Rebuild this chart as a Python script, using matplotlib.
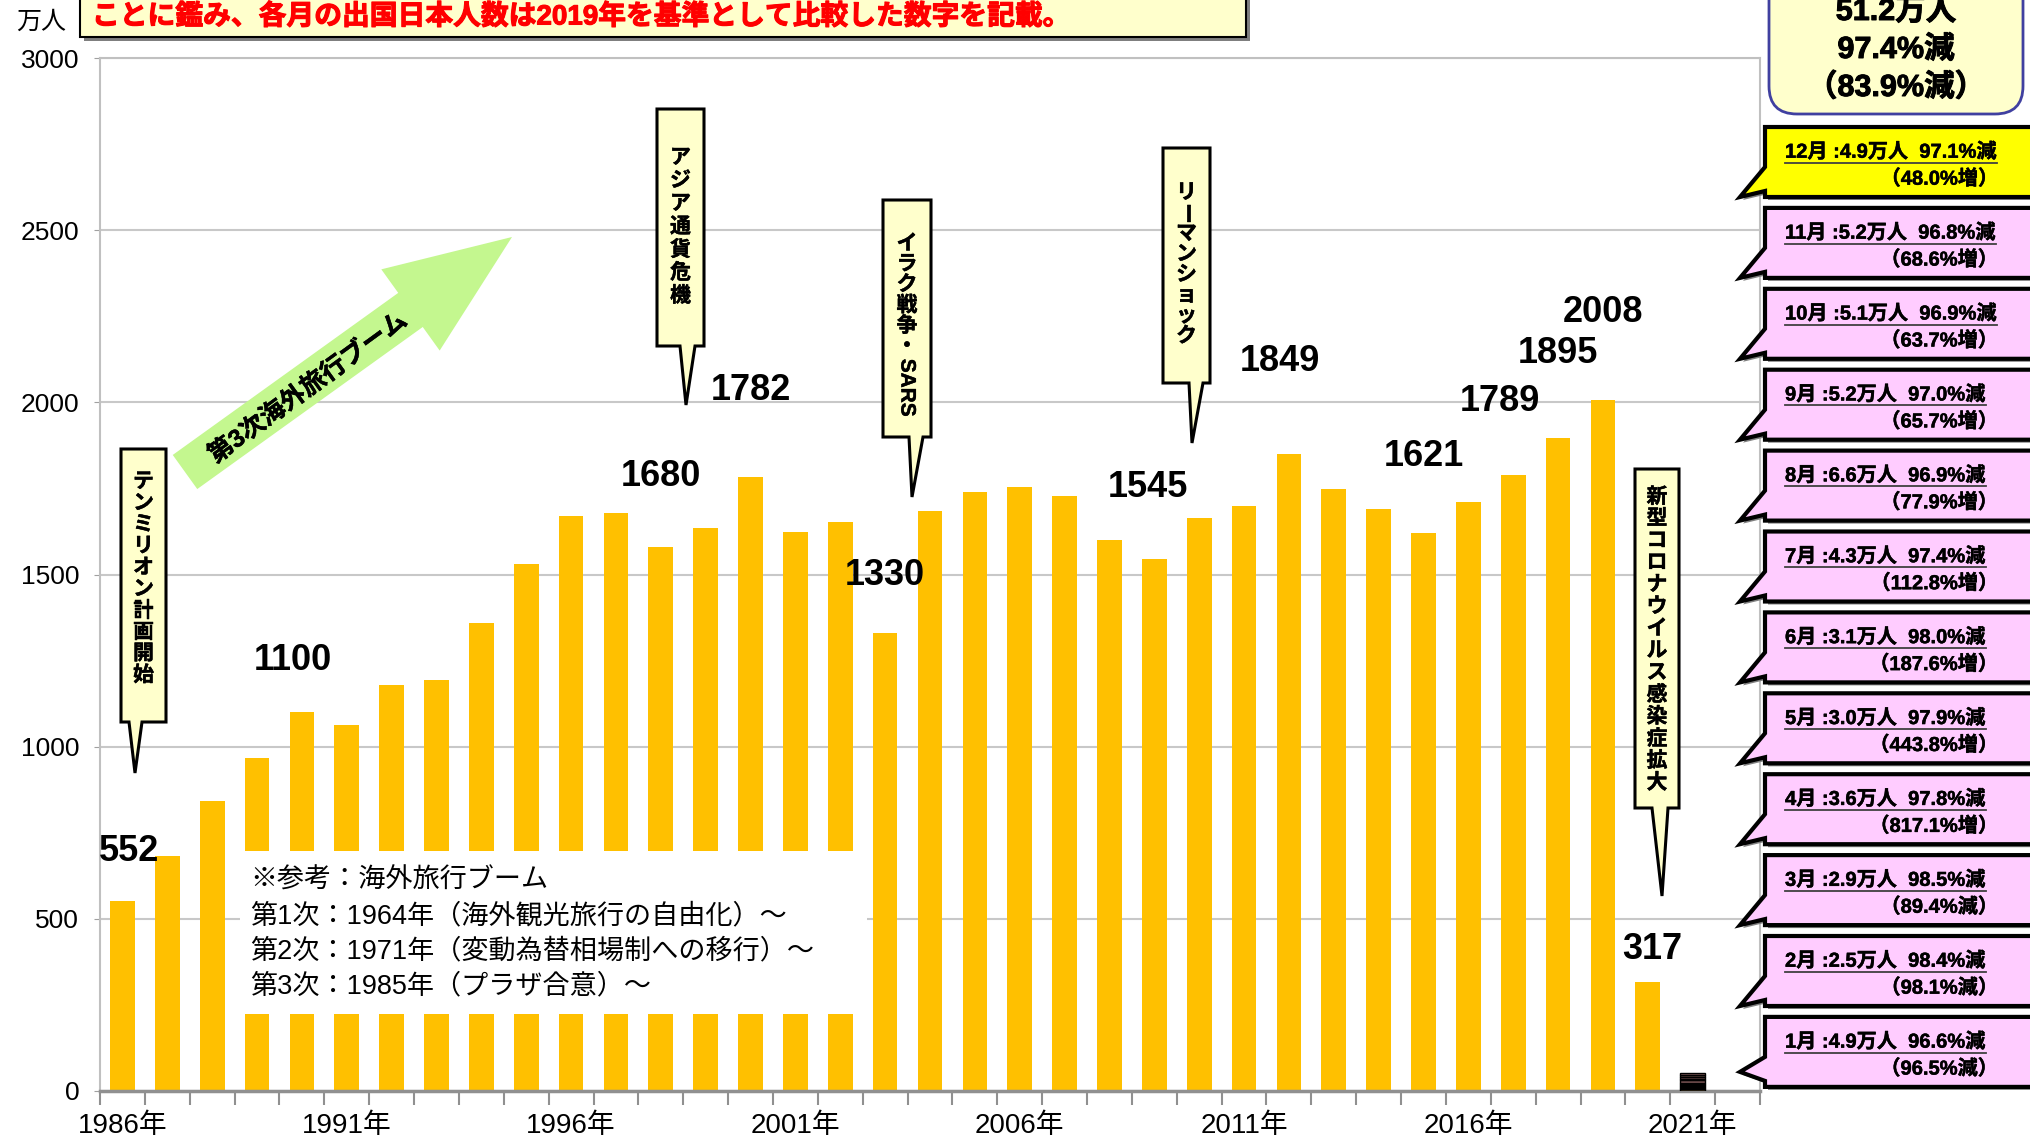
import numpy as np
import matplotlib
matplotlib.use("Agg")
import matplotlib.pyplot as plt
import matplotlib.patheffects as pe
from matplotlib.patches import Polygon, Rectangle, FancyBboxPatch

plt.rcParams['font.family'] = ['Liberation Sans', 'Noto Sans CJK JP', 'DejaVu Sans']

# 出国日本人数（万人）
years = list(range(1986, 2023))
travelers = [552, 683, 843, 966, 1100, 1063, 1179, 1193, 1358, 1530,
             1669, 1680, 1581, 1636, 1782, 1622, 1652, 1330, 1683, 1740,
             1753, 1729, 1599, 1545, 1664, 1699, 1849, 1747, 1690, 1621,
             1712, 1789, 1895, 2008, 317]

# 2021年 月別（万人）、2019年同月比、2020年同月比
months = ['1月', '2月', '3月', '4月', '5月', '6月',
          '7月', '8月', '9月', '10月', '11月', '12月']
monthly_2021 = [4.9, 2.5, 2.9, 3.6, 3.0, 3.1, 4.3, 6.6, 5.2, 5.1, 5.2, 4.9]
vs_2019 = ['96.6%減', '98.4%減', '98.5%減', '97.8%減', '97.9%減', '98.0%減',
           '97.4%減', '96.9%減', '97.0%減', '96.9%減', '96.8%減', '97.1%減']
vs_2020 = ['96.5%減', '98.1%減', '89.4%減', '817.1%増', '443.8%増', '187.6%増',
           '112.8%増', '77.9%増', '65.7%増', '63.7%増', '68.6%増', '48.0%増']
total_2021 = ['51.2万人', '97.4%減', '（83.9%減）']

labeled_years = [1986, 1990, 1997, 2000, 2003, 2009, 2012, 2015, 2017, 2018, 2019, 2020]
# ラベル位置のずらし（カテゴリ, 万人）
label_shift = [(0.15, 144), (-0.2, 150), (1.0, 104), (0, 251), (0, 168), (-0.15, 209),
               (-0.2, 270), (0, 223), (-0.3, 213), (0, 247), (0, 254), (0.1, 93)]

W, H = 2031, 1143
fig = plt.figure(figsize=(W / 100, H / 100), dpi=100)
ax = fig.add_axes([100 / W, (H - 1091) / H, 1660 / W, (1091 - 58) / H])

# 太字を少し太く見せる
thick = [pe.withStroke(linewidth=0.7, foreground='black')]
thin = [pe.withStroke(linewidth=0.35, foreground='black')]

x = np.arange(len(years))
bar_w = 0.55
ax.bar(x[:len(travelers)], travelers, width=bar_w, color='#FFC000', zorder=2)

# 2021年は月別の積み上げ
month_colors = ['#4A3A22', '#5A4630', '#4A3A22', '#5A4630', '#4A3A22', '#5A4630',
                '#6E4E46', '#7E5858', '#6E4E46', '#7E5858', '#6E4E46', '#8A6060']
i21 = years.index(2021)
bottom = 0
for v, c in zip(monthly_2021, month_colors):
    ax.bar(i21, v, width=bar_w, bottom=bottom, color=c, edgecolor='black', lw=1.0, zorder=3)
    bottom += v

for yr, (dx, dy) in zip(labeled_years, label_shift):
    i = years.index(yr)
    v = travelers[i]
    ax.text(i + dx, v + dy, f'{v}', ha='center', va='center', fontsize=26,
            fontweight='bold', zorder=4)

ax.set_xlim(-0.5, len(years) - 0.5)
ax.set_ylim(0, 3000)
ax.set_yticks(np.arange(0, 3001, 500))
ax.tick_params(axis='y', labelsize=19, length=4, pad=11, color='#A0A0A0')
ax.grid(axis='y', color='#C8C8C8', lw=1.5, zorder=0)
ax.set_axisbelow(True)

major = [i for i, y in enumerate(years) if (y - 1986) % 5 == 0 and y <= 2021]
ax.set_xticks(major)
ax.set_xticklabels([f'{years[i]}年' for i in major])
ax.set_xticks(np.arange(-0.5, len(years)), minor=True)
ax.tick_params(axis='x', which='major', length=0, labelsize=20, pad=16)
ax.tick_params(axis='x', which='minor', length=10, width=1.5, color='#909090')

for s in ax.spines.values():
    s.set_color('#C0C0C0')
    s.set_linewidth(1.5)
ax.spines['bottom'].set_color('#909090')
ax.spines['bottom'].set_linewidth(2.5)

# 注記類はピクセル座標の重ね合わせ軸に描く
ov = fig.add_axes([0, 0, 1, 1], zorder=5)
ov.set_xlim(0, W)
ov.set_ylim(H, 0)
ov.axis('off')
ov.patch.set_alpha(0)

ov.text(41, 22, '万人', ha='center', va='center', fontsize=18)

# 参考ボックス
ov.add_patch(Rectangle((240, 851), 627, 163, fc='white', ec='none'))
ref_lines = ['※参考：海外旅行ブーム',
             '第1次：1964年（海外観光旅行の自由化）〜',
             '第2次：1971年（変動為替相場制への移行）〜',
             '第3次：1985年（プラザ合意）〜']
for k, line in enumerate(ref_lines):
    ov.text(250, 881 + k * 35, line, ha='left', va='center', fontsize=19.5)

# 上部の注意書き
ov.add_patch(Rectangle((84, -20), 1166, 61, fc='#7F7F7F', ec='none'))
ov.add_patch(Rectangle((80, -24), 1166, 61, fc='#FFFFCC', ec='black', lw=1.5))
ov.text(92, 17, 'ことに鑑み、各月の出国日本人数は2019年を基準として比較した数字を記載。',
        ha='left', va='center', fontsize=20, fontweight='bold', color='#FF0000',
        path_effects=[pe.withStroke(linewidth=0.8, foreground='#FF0000')])

# 2021年の合計
ov.add_patch(FancyBboxPatch((1769, -60), 254, 174,
                            boxstyle='round,pad=0,rounding_size=28',
                            fc='#FFFFCC', ec='#4040A0', lw=2))
for k, t in enumerate(total_2021):
    ov.text(1896, 12 + k * 38, t, ha='center', va='center', fontsize=22,
            fontweight='bold', path_effects=thick)

# 月別の吹き出し
renderer = fig.canvas.get_renderer()
xl, xr = 1765, 2045
for k, m in enumerate(reversed(range(12))):
    top = 127 + k * 80.9
    bot = top + 70
    tip_y = top + 55 if m == 0 else top + 70
    pts = [(xl, top), (xr, top), (xr, bot), (xl, bot), (xl, top + 64),
           (1740, tip_y), (xl, top + 40)]
    fc = '#FFFF00' if m == 11 else '#FFCCFF'
    ov.add_patch(Polygon([(px + 3, py + 3) for px, py in pts], closed=True,
                         fc='#808080', ec='none'))
    ov.add_patch(Polygon(pts, closed=True, fc=fc, ec='black', lw=3, joinstyle='miter'))
    t1 = ov.text(1785, top + 25, f'{months[m]} :{monthly_2021[m]}万人  {vs_2019[m]}',
                 ha='left', va='center', fontsize=14.5, fontweight='bold',
                 path_effects=thin)
    bb = t1.get_window_extent(renderer)
    ov.plot([bb.x0, bb.x1], [H - bb.y0 + 1, H - bb.y0 + 1], color='#404040', lw=1.3)
    ov.text(1998, top + 52, f'（{vs_2020[m]}）', ha='right', va='center',
            fontsize=14.5, fontweight='bold', path_effects=thin)


# 縦書きの吹き出し
def vcallout(box, tail, tip, parts, y0, step, size=15):
    x0, x1, y_top, y_bot = box
    pts = [(x0, y_top), (x1, y_top), (x1, y_bot), (tail[1], y_bot), tip,
           (tail[0], y_bot), (x0, y_bot)]
    ov.add_patch(Polygon(pts, closed=True, fc='#FFFFCC', ec='black', lw=2.2))
    xc = (x0 + x1) / 2
    y = y0
    for p in parts:
        if p == 'SARS':
            ov.text(xc, y - step / 2 + 2, p, rotation=-90, ha='center', va='top',
                    fontsize=size, fontweight='bold', path_effects=thin)
            y += step * 3.6
            continue
        for ch in p:
            rot = -90 if ch == 'ー' else 0
            ov.text(xc, y, ch, ha='center', va='center', fontsize=size,
                    fontweight='bold', rotation=rot, path_effects=thin)
            y += step


vcallout((121, 166, 449, 722), (129, 142), (135, 773), ['テンミリオン計画開始'], 482, 21.5)
vcallout((657, 704, 109, 346), (680, 695), (686, 405), ['アジア通貨危機'], 158, 23)
vcallout((883, 931, 200, 437), (909, 923), (912, 497), ['イラク戦争・', 'SARS'], 244, 20.5)
vcallout((1163, 1210, 148, 383), (1189, 1203), (1192, 443), ['リーマンショック'], 193, 20.5)
vcallout((1635, 1679, 469, 808), (1652, 1668), (1662, 896), ['新型コロナウイルス感染症拡大'], 497, 22)

# 第3次海外旅行ブームの矢印
tail = np.array([185.0, 472.0])
tip = np.array([512.0, 237.0])
u = (tip - tail) / np.linalg.norm(tip - tail)
n = np.array([u[1], -u[0]])
neck = tip - u * 125
shaft, head = 21, 50
arrow_pts = [tail + n * shaft, neck + n * shaft, neck + n * head, tip,
             neck - n * head, neck - n * shaft, tail - n * shaft]
ov.add_patch(Polygon(arrow_pts, closed=True, fc='#C4F78F', ec='none'))
ov.text(308, 388, '第3次海外旅行ブーム', rotation=36, ha='center', va='center',
        fontsize=18, fontweight='bold', rotation_mode='anchor', path_effects=thin)

fig.savefig('out.png', dpi=100)
